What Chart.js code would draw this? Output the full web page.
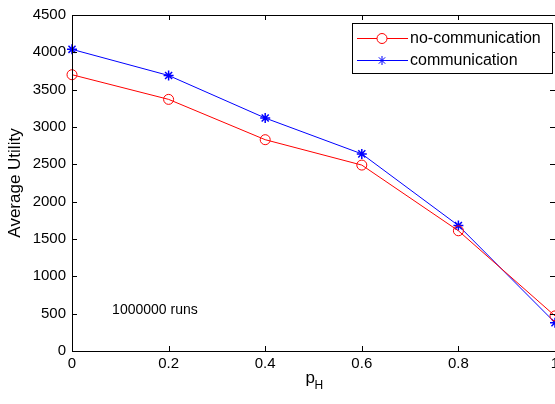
<!DOCTYPE html>
<html lang="en">
<head>
  <meta charset="UTF-8">
  <title>Average Utility vs p_H</title>
  <style>
    body, html {
      margin: 0;
      padding: 0;
      background: #fff;
      overflow: hidden;
    }
    .wrap {
      width: 565px;
      height: 404px;
    }
  </style>
</head>
<body>
  <div class="wrap">
    <canvas id="myChart" width="565" height="404"></canvas>
  </div>

  <script src="https://cdn.jsdelivr.net/npm/chart.js"></script>
  <script>
    // data
    var pH = [0, 0.2, 0.4, 0.6, 0.8, 1.0];
    var noComm = [3700, 3370, 2830, 2490, 1610, 470];
    var comm = [4040, 3690, 3120, 2640, 1680, 380];
    var xTickLabels = ['0', '0.2', '0.4', '0.6', '0.8', '1'];
    var yTicks = [0, 500, 1000, 1500, 2000, 2500, 3000, 3500, 4000, 4500];
    var seriesNames = ['no-communication', 'communication'];
    var noteText = '1000000 runs';

    var FONT = '"Liberation Sans", Arial, sans-serif';

    function points(ys) {
      return pH.map(function (x, i) { return { x: x, y: ys[i] }; });
    }

    function drawStar(ctx, x, y, r) {
      ctx.beginPath();
      ctx.moveTo(x - r, y); ctx.lineTo(x + r, y);
      ctx.moveTo(x, y - r); ctx.lineTo(x, y + r);
      var d = r * 0.7071;
      ctx.moveTo(x - d, y - d); ctx.lineTo(x + d, y + d);
      ctx.moveTo(x - d, y + d); ctx.lineTo(x + d, y - d);
      ctx.stroke();
    }

    // matlab-like frame: box, inward ticks, legend, notes, x label
    var matlabFrame = {
      id: 'matlabFrame',
      afterDraw: function (chart) {
        var ctx = chart.ctx;
        var a = chart.chartArea;
        var xs = chart.scales.x, ys = chart.scales.y;
        ctx.save();
        ctx.strokeStyle = '#000';
        ctx.lineWidth = 1;
        ctx.strokeRect(Math.round(a.left) + 0.5, Math.round(a.top) + 0.5,
          Math.round(a.right - a.left), Math.round(a.bottom - a.top));

        var tl = 5;
        ctx.beginPath();
        pH.forEach(function (v) {
          var px = Math.round(xs.getPixelForValue(v)) + 0.5;
          ctx.moveTo(px, a.bottom); ctx.lineTo(px, a.bottom - tl);
          ctx.moveTo(px, a.top); ctx.lineTo(px, a.top + tl);
        });
        yTicks.forEach(function (v) {
          var py = Math.round(ys.getPixelForValue(v)) + 0.5;
          ctx.moveTo(a.left, py); ctx.lineTo(a.left + tl, py);
          ctx.moveTo(a.right, py); ctx.lineTo(a.right - tl, py);
        });
        ctx.stroke();

        // note text
        ctx.fillStyle = '#000';
        ctx.font = '14px ' + FONT;
        ctx.textAlign = 'left';
        ctx.textBaseline = 'middle';
        ctx.fillText(noteText, xs.getPixelForValue(0.083), ys.getPixelForValue(550));

        // x label p_H
        var cx = (a.left + a.right) / 2;
        ctx.font = '17px ' + FONT;
        ctx.textBaseline = 'alphabetic';
        ctx.fillText('p', cx - 8, 383);
        ctx.font = '12px ' + FONT;
        ctx.fillText('H', cx + 1, 389);

        // legend
        var lx = 352, ly = 23, lw = 200, lh = 50;
        ctx.fillStyle = '#fff';
        ctx.fillRect(lx, ly, lw, lh);
        ctx.strokeStyle = '#000';
        ctx.strokeRect(lx + 0.5, ly + 0.5, lw, lh);
        var rows = [
          { name: seriesNames[0], color: '#ff0000', y: ly + 15, mark: 'circle' },
          { name: seriesNames[1], color: '#0000ff', y: ly + 37, mark: 'star' }
        ];
        rows.forEach(function (r) {
          ctx.strokeStyle = r.color;
          ctx.beginPath();
          ctx.moveTo(lx + 5, r.y + 0.5); ctx.lineTo(lx + 56, r.y + 0.5);
          ctx.stroke();
          if (r.mark === 'circle') {
            ctx.beginPath();
            ctx.arc(lx + 30, r.y + 0.5, 5, 0, Math.PI * 2);
            ctx.fillStyle = '#fff';
            ctx.fill();
            ctx.stroke();
          } else {
            drawStar(ctx, lx + 30, r.y + 0.5, 4.5);
          }
          ctx.fillStyle = '#000';
          ctx.font = '16px ' + FONT;
          ctx.textBaseline = 'middle';
          ctx.fillText(r.name, lx + 58, r.y + 1);
        });
        ctx.restore();
      }
    };

    var ctx = document.getElementById('myChart').getContext('2d');
    var myChart = new Chart(ctx, {
      type: 'line',
      data: {
        datasets: [{
          label: seriesNames[0],
          data: points(noComm),
          borderColor: '#ff0000',
          borderWidth: 1,
          pointStyle: 'circle',
          pointRadius: 5,
          pointBorderColor: '#ff0000',
          pointBackgroundColor: 'rgba(0,0,0,0)',
          pointBorderWidth: 1,
          clip: false,
          fill: false
        }, {
          label: seriesNames[1],
          data: points(comm),
          borderColor: '#0000ff',
          borderWidth: 1,
          pointStyle: 'star',
          pointRadius: 5,
          pointBorderColor: '#0000ff',
          pointBorderWidth: 1.5,
          clip: false,
          fill: false
        }]
      },
      options: {
        responsive: false,
        animation: false,
        devicePixelRatio: 1,
        layout: { padding: { left: 0, top: 15, right: 10, bottom: 0 } },
        plugins: {
          legend: { display: false },
          tooltip: { enabled: false }
        },
        scales: {
          x: {
            type: 'linear',
            min: 0,
            max: 1,
            afterFit: function (s) { s.height = 53; },
            afterBuildTicks: function (s) {
              s.ticks = pH.map(function (v) { return { value: v }; });
            },
            ticks: {
              callback: function (v, i) { return xTickLabels[i]; },
              color: '#000',
              font: { family: FONT, size: 15 },
              padding: 4,
              maxRotation: 0
            },
            grid: { display: false, drawTicks: false },
            border: { display: true, color: '#000' }
          },
          y: {
            min: 0,
            max: 4500,
            afterFit: function (s) { s.width = 72; },
            afterBuildTicks: function (s) {
              s.ticks = yTicks.map(function (v) { return { value: v }; });
            },
            ticks: {
              callback: function (v) { return String(v); },
              color: '#000',
              font: { family: FONT, size: 15 },
              padding: 6
            },
            title: {
              display: true,
              text: 'Average Utility',
              color: '#000',
              font: { family: FONT, size: 17 },
              padding: { top: 5, bottom: 0 }
            },
            grid: { display: false, drawTicks: false },
            border: { display: true, color: '#000' }
          }
        }
      },
      plugins: [matlabFrame]
    });
  </script>
</body>
</html>
